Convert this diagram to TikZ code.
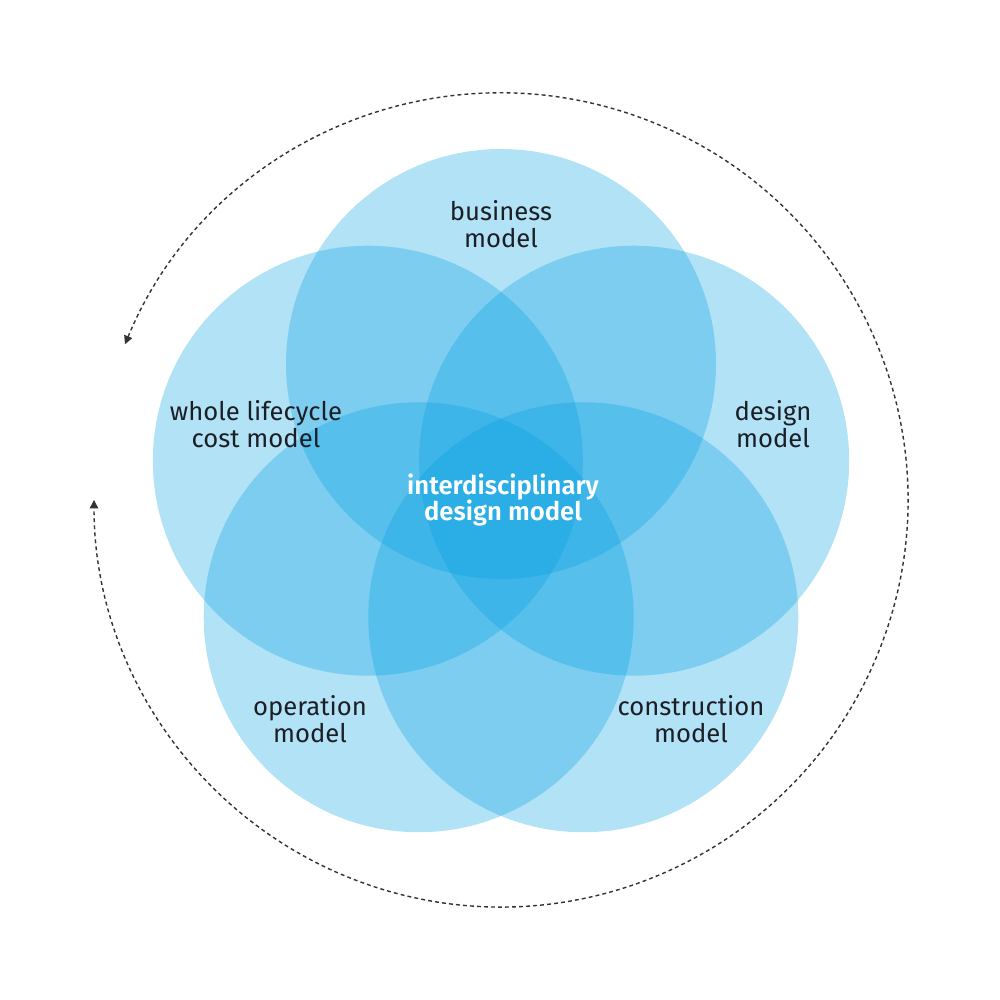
\documentclass[tikz,border=0pt]{standalone}
\usepackage{fontspec}
\setmainfont{Fira Sans}[BoldFont={Fira Sans SemiBold}]
\usepackage{xcolor}
\definecolor{Sky}{RGB}{0,158,225}
\definecolor{Ink}{HTML}{1c1e26}
\colorlet{cModel}{Sky}
\colorlet{cText}{Ink}
\colorlet{cRing}{black!80}
\usetikzlibrary{arrows.meta}
\tikzset{
	line width = .35pt,
	font = \fontsize{7.3}{7.6}\selectfont,
	model/.style={
		circle,
		fill=cModel,
		fill opacity=.3,
		inner sep=0pt,
		minimum size=4.3cm
	},
	tag/.style={
		text=cText,
		align=center,
		inner sep=0pt
	},
	ring/.style={
		draw=cRing,
		dash pattern=on 1.1pt off .9pt,
		{Triangle[length=2.4pt, width=2.4pt]}-{Triangle[length=2.4pt, width=2.4pt]}
	}
}
\begin{document}
\begin{tikzpicture}
\useasboundingbox (0,0) rectangle (10,10);
\coordinate (hub) at (5.01,4.96);
\coordinate (ring-c) at (5.01,5.00);

% ---
% five models
% ---
\node[model] (m-business) at ([shift={(90:1.40)}]hub) {};
\node[model] (m-cost) at ([shift={(162:1.40)}]hub) {};
\node[model] (m-operation) at ([shift={(234:1.40)}]hub) {};
\node[model] (m-construction) at ([shift={(306:1.40)}]hub) {};
\node[model] (m-design) at ([shift={(18:1.40)}]hub) {};

% ---
% labels
% ---
\node[tag] (t-business) at (5.01,7.76) {business\\model};
\node[tag] (t-cost) at (2.56,5.76) {whole lifecycle\\cost model};
\node[tag] (t-design) at (7.73,5.76) {design\\model};
\node[tag] (t-operation) at (3.10,2.81) {operation\\model};
\node[tag] (t-construction) at (6.91,2.81) {construction\\model};
\node[tag, text=white, font=\fontsize{7.3}{7.6}\selectfont\bfseries] (t-hub) at (5.03,5.00) {interdisciplinary\\design model};

% ---
% cycle
% ---
\draw[ring] ([shift={(157.5:4.07)}]ring-c) arc[start angle=157.5, end angle=-180, radius=4.07];
\end{tikzpicture}
\end{document}
